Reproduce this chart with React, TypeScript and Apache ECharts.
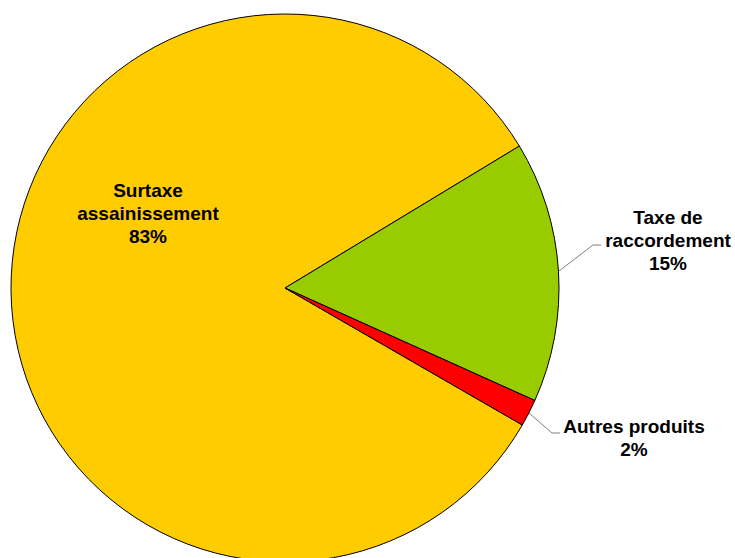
import React, { useEffect, useRef } from "react";
import * as echarts from "echarts";

const categories = ["Surtaxe\nassainissement", "Taxe de\nraccordement", "Autres produits"];
const values = [83.0, 15.4, 1.6];
const colors = ["#FFCC00", "#99CC00", "#FF0000"];

export default function App() {
  const ref = useRef<HTMLDivElement>(null);
  useEffect(() => {
    const chart = echarts.init(ref.current!, null, { renderer: "svg" });
    chart.setOption({
      animation: false,
      backgroundColor: "#ffffff",
      series: [
        {
          type: "pie",
          center: [285, 288],
          radius: 274,
          startAngle: 330,
          clockwise: true,
          avoidLabelOverlap: false,
          itemStyle: { borderColor: "#000000", borderWidth: 1 },
          label: {
            show: true,
            formatter: (p: any) => `${p.name}\n${Math.round(p.percent)}%`,
            fontFamily: "Liberation Sans, Arial, sans-serif",
            fontWeight: "bold",
            fontSize: 19,
            lineHeight: 23,
            color: "#000000",
            align: "center",
          },
          labelLine: {
            show: true,
            length: 20,
            length2: 8,
            lineStyle: { color: "#808080", width: 1 },
          },
          labelLayout: (params: any) => {
            const start = params.labelLinePoints ? params.labelLinePoints[0] : null;
            if (params.dataIndex === 0) {
              return { x: 148, y: 213, align: "center", verticalAlign: "middle" };
            }
            if (params.dataIndex === 1) {
              return {
                x: 668,
                y: 240,
                align: "center",
                verticalAlign: "middle",
                labelLinePoints: start ? [start, [593, 245], [601, 245]] : undefined,
              };
            }
            return {
              x: 634,
              y: 438,
              align: "center",
              verticalAlign: "middle",
              labelLinePoints: start ? [start, [552, 433], [560, 433]] : undefined,
            };
          },
          data: categories.map((name, i) => ({
            name,
            value: values[i],
            itemStyle: { color: colors[i] },
            ...(i === 0
              ? { label: { position: "inside" }, labelLine: { show: false } }
              : {}),
          })),
        },
      ],
    });
    return () => chart.dispose();
  }, []);
  return (
    <div
      ref={ref}
      style={{ position: "absolute", left: 0, top: 0, width: 735, height: 558 }}
    />
  );
}
